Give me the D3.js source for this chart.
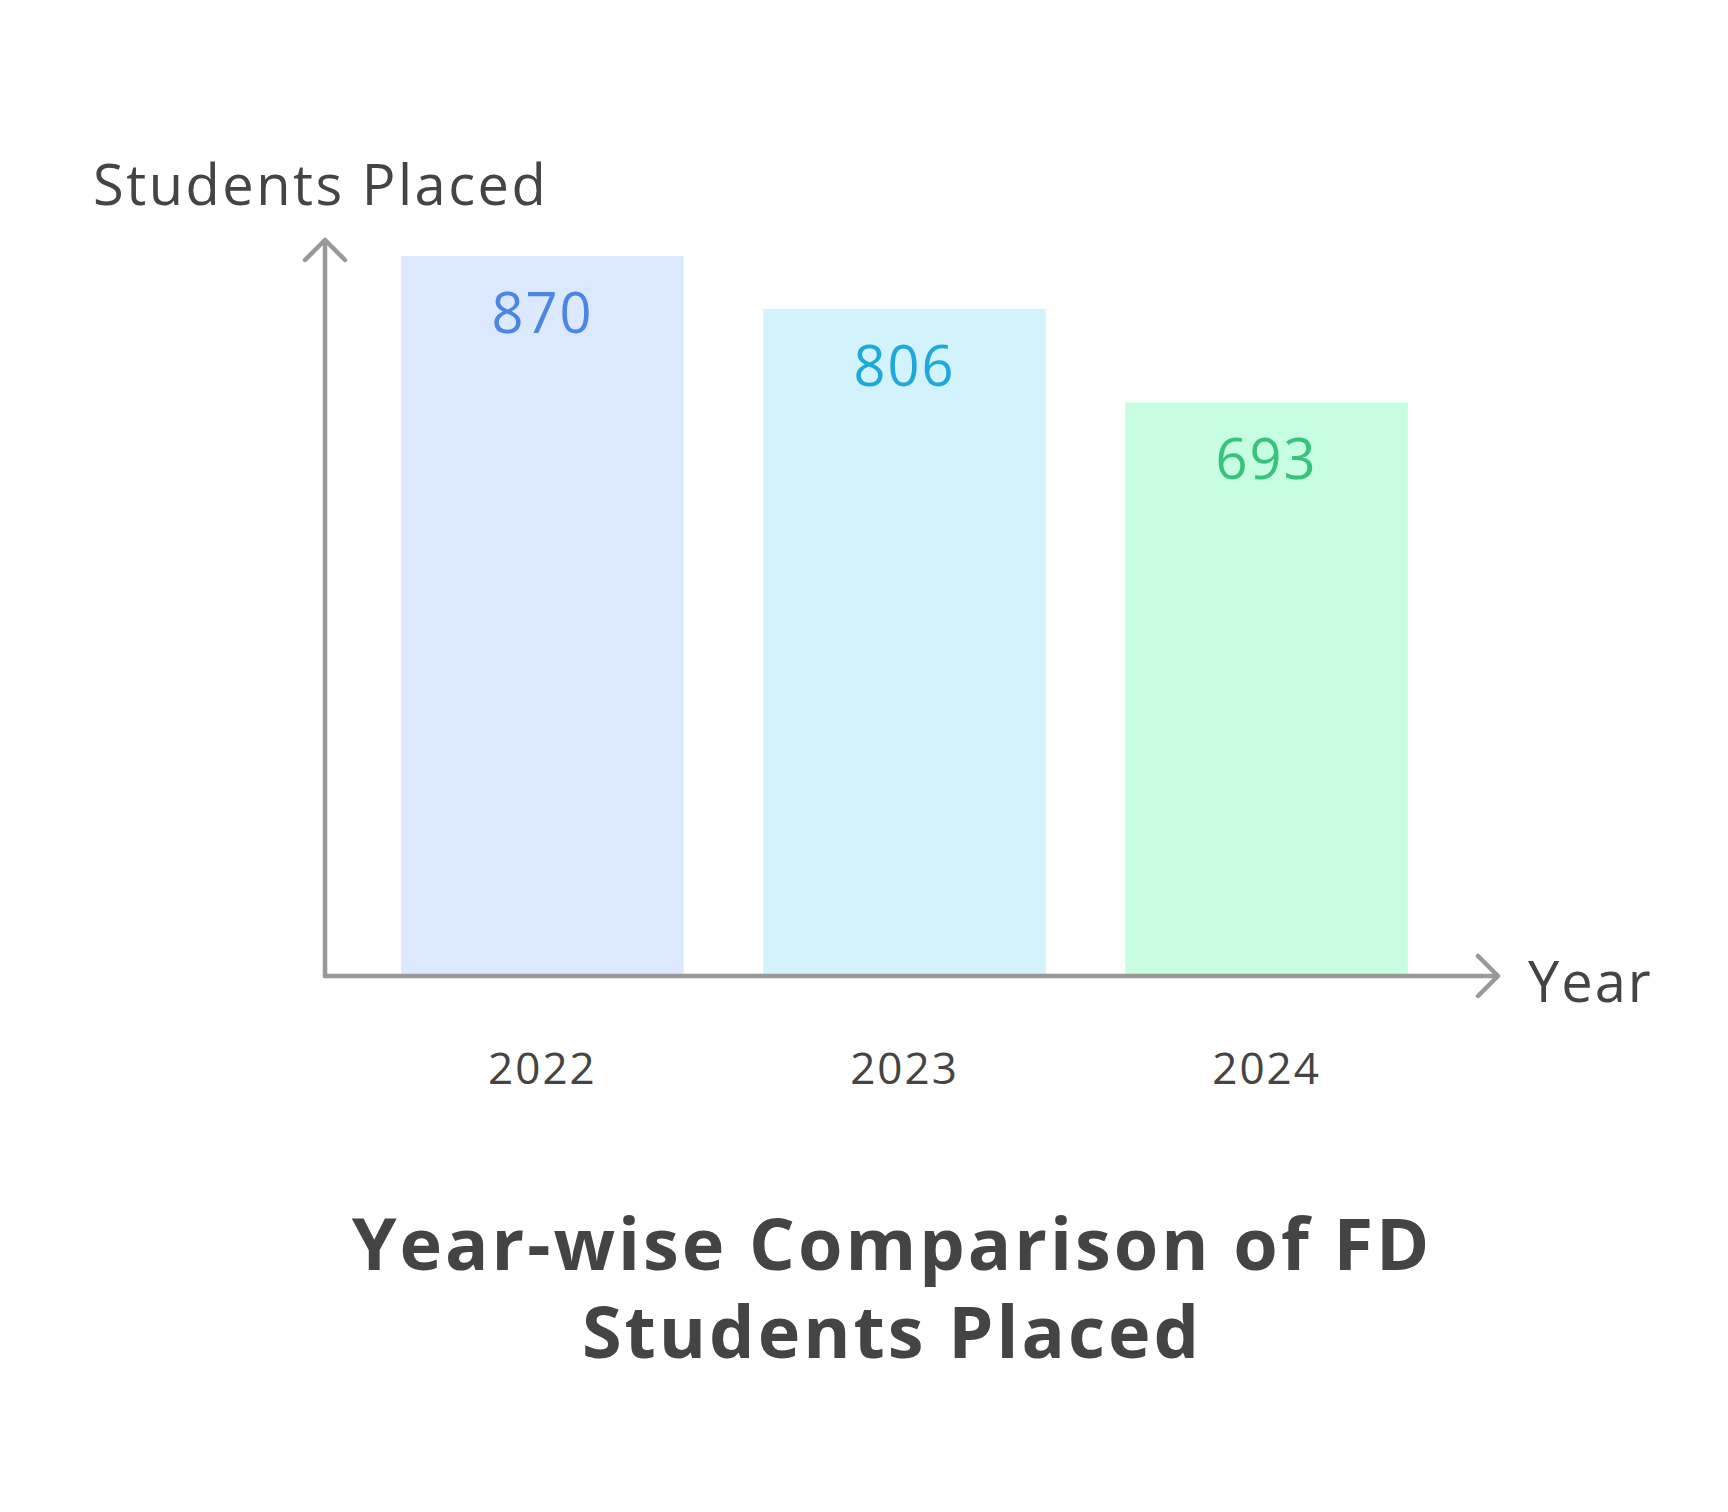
<!DOCTYPE html><html><head><meta charset="utf-8">
<script src="https://cdn.jsdelivr.net/npm/d3@7"></script>
<style>body{margin:0;background:#fff}</style></head><body>
<svg id="c" width="1728" height="1512"></svg>
<script>
const years=["2022","2023","2024"];
const placed=[870,806,693];
const fills=["#dce8fd","#d3f3fc","#c7fde0"];
const textColors=["#4a86e4","#1ea8dc","#35c47c"];
const svg=d3.select("#c");
const font="'Open Sans', sans-serif";
const x0=325,yBase=976,xEnd=1498;
const x=d3.scaleBand().domain(years).range([365,1444]).paddingInner(0.22).paddingOuter(0.1);
const y=d3.scaleLinear().domain([0,870]).range([yBase,256]);
svg.selectAll("rect.b").data(years).join("rect").attr("x",d=>x(d)).attr("width",x.bandwidth())
 .attr("y",(d,i)=>y(placed[i])).attr("height",(d,i)=>yBase-y(placed[i])).attr("fill",(d,i)=>fills[i]);
svg.selectAll("text.v").data(years).join("text").attr("x",d=>x(d)+x.bandwidth()/2).attr("y",(d,i)=>y(placed[i])+77)
 .attr("text-anchor","middle").attr("font-family",font).attr("font-size",56).attr("letter-spacing",2).attr("fill",(d,i)=>textColors[i]).text((d,i)=>placed[i]);
svg.selectAll("text.y").data(years).join("text").attr("x",d=>x(d)+x.bandwidth()/2).attr("y",1084)
 .attr("text-anchor","middle").attr("font-family",font).attr("font-size",44).attr("letter-spacing",2).attr("fill","#444").text(d=>d);
const ax=svg.append("g").attr("stroke","#999").attr("stroke-width",4.5).attr("fill","none").attr("stroke-linecap","round").attr("stroke-linejoin","round");
ax.append("path").attr("d",`M${x0},${yBase}V240M${x0-20},260L${x0},240L${x0+20},260`);
ax.append("path").attr("d",`M${x0},${yBase}H${xEnd}M${xEnd-20},${yBase-20}L${xEnd},${yBase}L${xEnd-20},${yBase+20}`);
svg.append("text").attr("x",93).attr("y",205).attr("font-family",font).attr("font-size",56).attr("letter-spacing",2.5).attr("fill","#444").text("Students Placed");
svg.append("text").attr("x",1528).attr("y",1002).attr("font-family",font).attr("font-size",56).attr("letter-spacing",2).attr("fill","#444").text("Year");
svg.append("text").attr("x",892).attr("y",1270).attr("text-anchor","middle").attr("font-family",font).attr("font-weight",700).attr("font-size",72).attr("letter-spacing",3).attr("fill","#444").text("Year-wise Comparison of FD");
svg.append("text").attr("x",892).attr("y",1358).attr("text-anchor","middle").attr("font-family",font).attr("font-weight",700).attr("font-size",72).attr("letter-spacing",3).attr("fill","#444").text("Students Placed");
</script></body></html>
